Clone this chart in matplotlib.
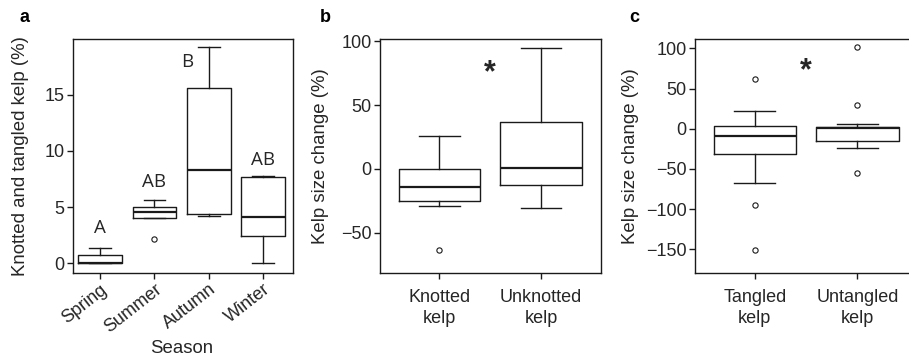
import matplotlib
matplotlib.use("Agg")
from matplotlib import pyplot as plt

plt.rcParams["font.family"] = ["Liberation Sans", "DejaVu Sans"]

# a: knotted and tangled kelp (%) per season
seasons = ["Spring", "Summer", "Autumn", "Winter"]
season_q1 = [0.0, 4.0, 4.4, 2.4]
season_med = [0.0, 4.6, 8.3, 4.1]
season_q3 = [0.7, 5.0, 15.6, 7.7]
season_lo = [0.0, 4.0, 4.2, 0.0]
season_hi = [1.4, 5.6, 19.2, 7.8]
season_out = [[], [2.2], [], []]
season_letters = ["A", "AB", "B", "AB"]
letter_y = [3.1, 7.2, 17.9, 9.2]

# b: knotted vs unknotted kelp size change (%)
knot_groups = ["Knotted\nkelp", "Unknotted\nkelp"]
knot_q1 = [-25.0, -13.0]
knot_med = [-14.0, 0.8]
knot_q3 = [-0.5, 36.7]
knot_lo = [-29.0, -30.5]
knot_hi = [25.5, 95.0]
knot_out = [[-64.0], []]

# c: tangled vs untangled kelp size change (%)
tangle_groups = ["Tangled\nkelp", "Untangled\nkelp"]
tangle_q1 = [-31.0, -15.5]
tangle_med = [-8.7, 0.5]
tangle_q3 = [4.0, 1.8]
tangle_lo = [-68.0, -24.0]
tangle_hi = [21.8, 5.8]
tangle_out = [[62.0, -95.0, -151.0], [102.0, 29.0, -55.5]]

LINE = "#1a1a1a"
TEXT = "#262626"
TICK_FS = 13
LABEL_FS = 13.4


def make_stats(q1, med, q3, lo, hi, out):
    stats = []
    for i in range(len(med)):
        stats.append(dict(q1=q1[i], med=med[i], q3=q3[i],
                          whislo=lo[i], whishi=hi[i], fliers=out[i]))
    return stats


def draw_boxes(ax, stats, width):
    ax.bxp(stats, positions=range(1, len(stats) + 1), widths=width,
           showfliers=True, showcaps=True,
           boxprops=dict(color=LINE, linewidth=1.0),
           whiskerprops=dict(color=LINE, linewidth=1.0, linestyle="-"),
           capprops=dict(color=LINE, linewidth=1.0),
           capwidths=width / 2,
           medianprops=dict(color=LINE, linewidth=1.6),
           flierprops=dict(marker="o", markersize=3.8, markerfacecolor="none",
                           markeredgecolor=LINE, markeredgewidth=0.8))


def style_axes(ax):
    for s in ax.spines.values():
        s.set_color(LINE)
        s.set_linewidth(1.0)
    ax.tick_params(direction="out", length=4.5, width=1.0, colors=LINE,
                   labelcolor=TEXT, labelsize=TICK_FS)
    ax.tick_params(axis="y", pad=1.5)


fig = plt.figure(figsize=(9.09, 3.56), dpi=100)
bottom = 0.232
height = 0.659
ax_a = fig.add_axes([0.0803, bottom, 0.242, height])
ax_b = fig.add_axes([0.418, bottom, 0.2428, height])
ax_c = fig.add_axes([0.7646, bottom, 0.245, height])

# panel a
draw_boxes(ax_a, make_stats(season_q1, season_med, season_q3,
                            season_lo, season_hi, season_out), 0.8)
ax_a.set_xlim(0.5, 4.55)
ax_a.set_ylim(-0.9, 19.97)
ax_a.set_yticks([0, 5, 10, 15])
ax_a.set_xticks(range(1, 5))
ax_a.set_xticklabels(seasons, rotation=38, ha="right", rotation_mode="anchor",
                     fontsize=12.5)
ax_a.set_xlabel("Season", fontsize=LABEL_FS, color=TEXT)
ax_a.xaxis.set_label_coords(0.494, -0.318)
ax_a.xaxis.label.set_va("center")
ax_a.set_ylabel("Knotted and tangled kelp (%)", fontsize=LABEL_FS, color=TEXT,
                labelpad=11)
letter_x = [1, 2, 2.6, 4]
for x, y, t in zip(letter_x, letter_y, season_letters):
    ax_a.text(x, y, t, ha="center", va="center", fontsize=13.5,
              family=["Open Sans", "DejaVu Sans"], color=TEXT)

# panel b
draw_boxes(ax_b, make_stats(knot_q1, knot_med, knot_q3,
                            knot_lo, knot_hi, knot_out), 0.8)
ax_b.set_xlim(0.417, 2.587)
ax_b.set_ylim(-82, 102)
ax_b.set_yticks([-50, 0, 50, 100])
ax_b.set_xticks([1, 2])
ax_b.set_xticklabels(knot_groups, linespacing=1.3)
ax_b.set_ylabel("Kelp size change (%)", fontsize=LABEL_FS, color=TEXT,
                labelpad=9)
ax_b.text(1.5, 75, "*", ha="center", va="center", fontsize=22,
          fontweight="bold", color=TEXT)

# panel c
draw_boxes(ax_c, make_stats(tangle_q1, tangle_med, tangle_q3,
                            tangle_lo, tangle_hi, tangle_out), 0.8)
ax_c.set_xlim(0.417, 2.587)
ax_c.set_ylim(-180, 112)
ax_c.set_yticks([-150, -100, -50, 0, 50, 100])
ax_c.set_xticks([1, 2])
ax_c.set_xticklabels(tangle_groups, linespacing=1.3)
ax_c.set_ylabel("Kelp size change (%)", fontsize=LABEL_FS, color=TEXT,
                labelpad=5)
ax_c.text(1.5, 72, "*", ha="center", va="center", fontsize=22,
          fontweight="bold", color=TEXT)

for ax in (ax_a, ax_b, ax_c):
    style_axes(ax)
ax_a.tick_params(axis="x", pad=1)
ax_b.tick_params(axis="x", pad=7)
ax_c.tick_params(axis="x", pad=7)

fig.text(25 / 909, 1 - 18 / 356, "a", fontsize=13, fontweight="bold",
         ha="center", va="center", color="black")
fig.text(325 / 909, 1 - 18 / 356, "b", fontsize=13, fontweight="bold",
         ha="center", va="center", color="black")
fig.text(634 / 909, 1 - 18 / 356, "c", fontsize=13, fontweight="bold",
         ha="center", va="center", color="black")

fig.savefig("out.png", dpi=100)
plt.close()
